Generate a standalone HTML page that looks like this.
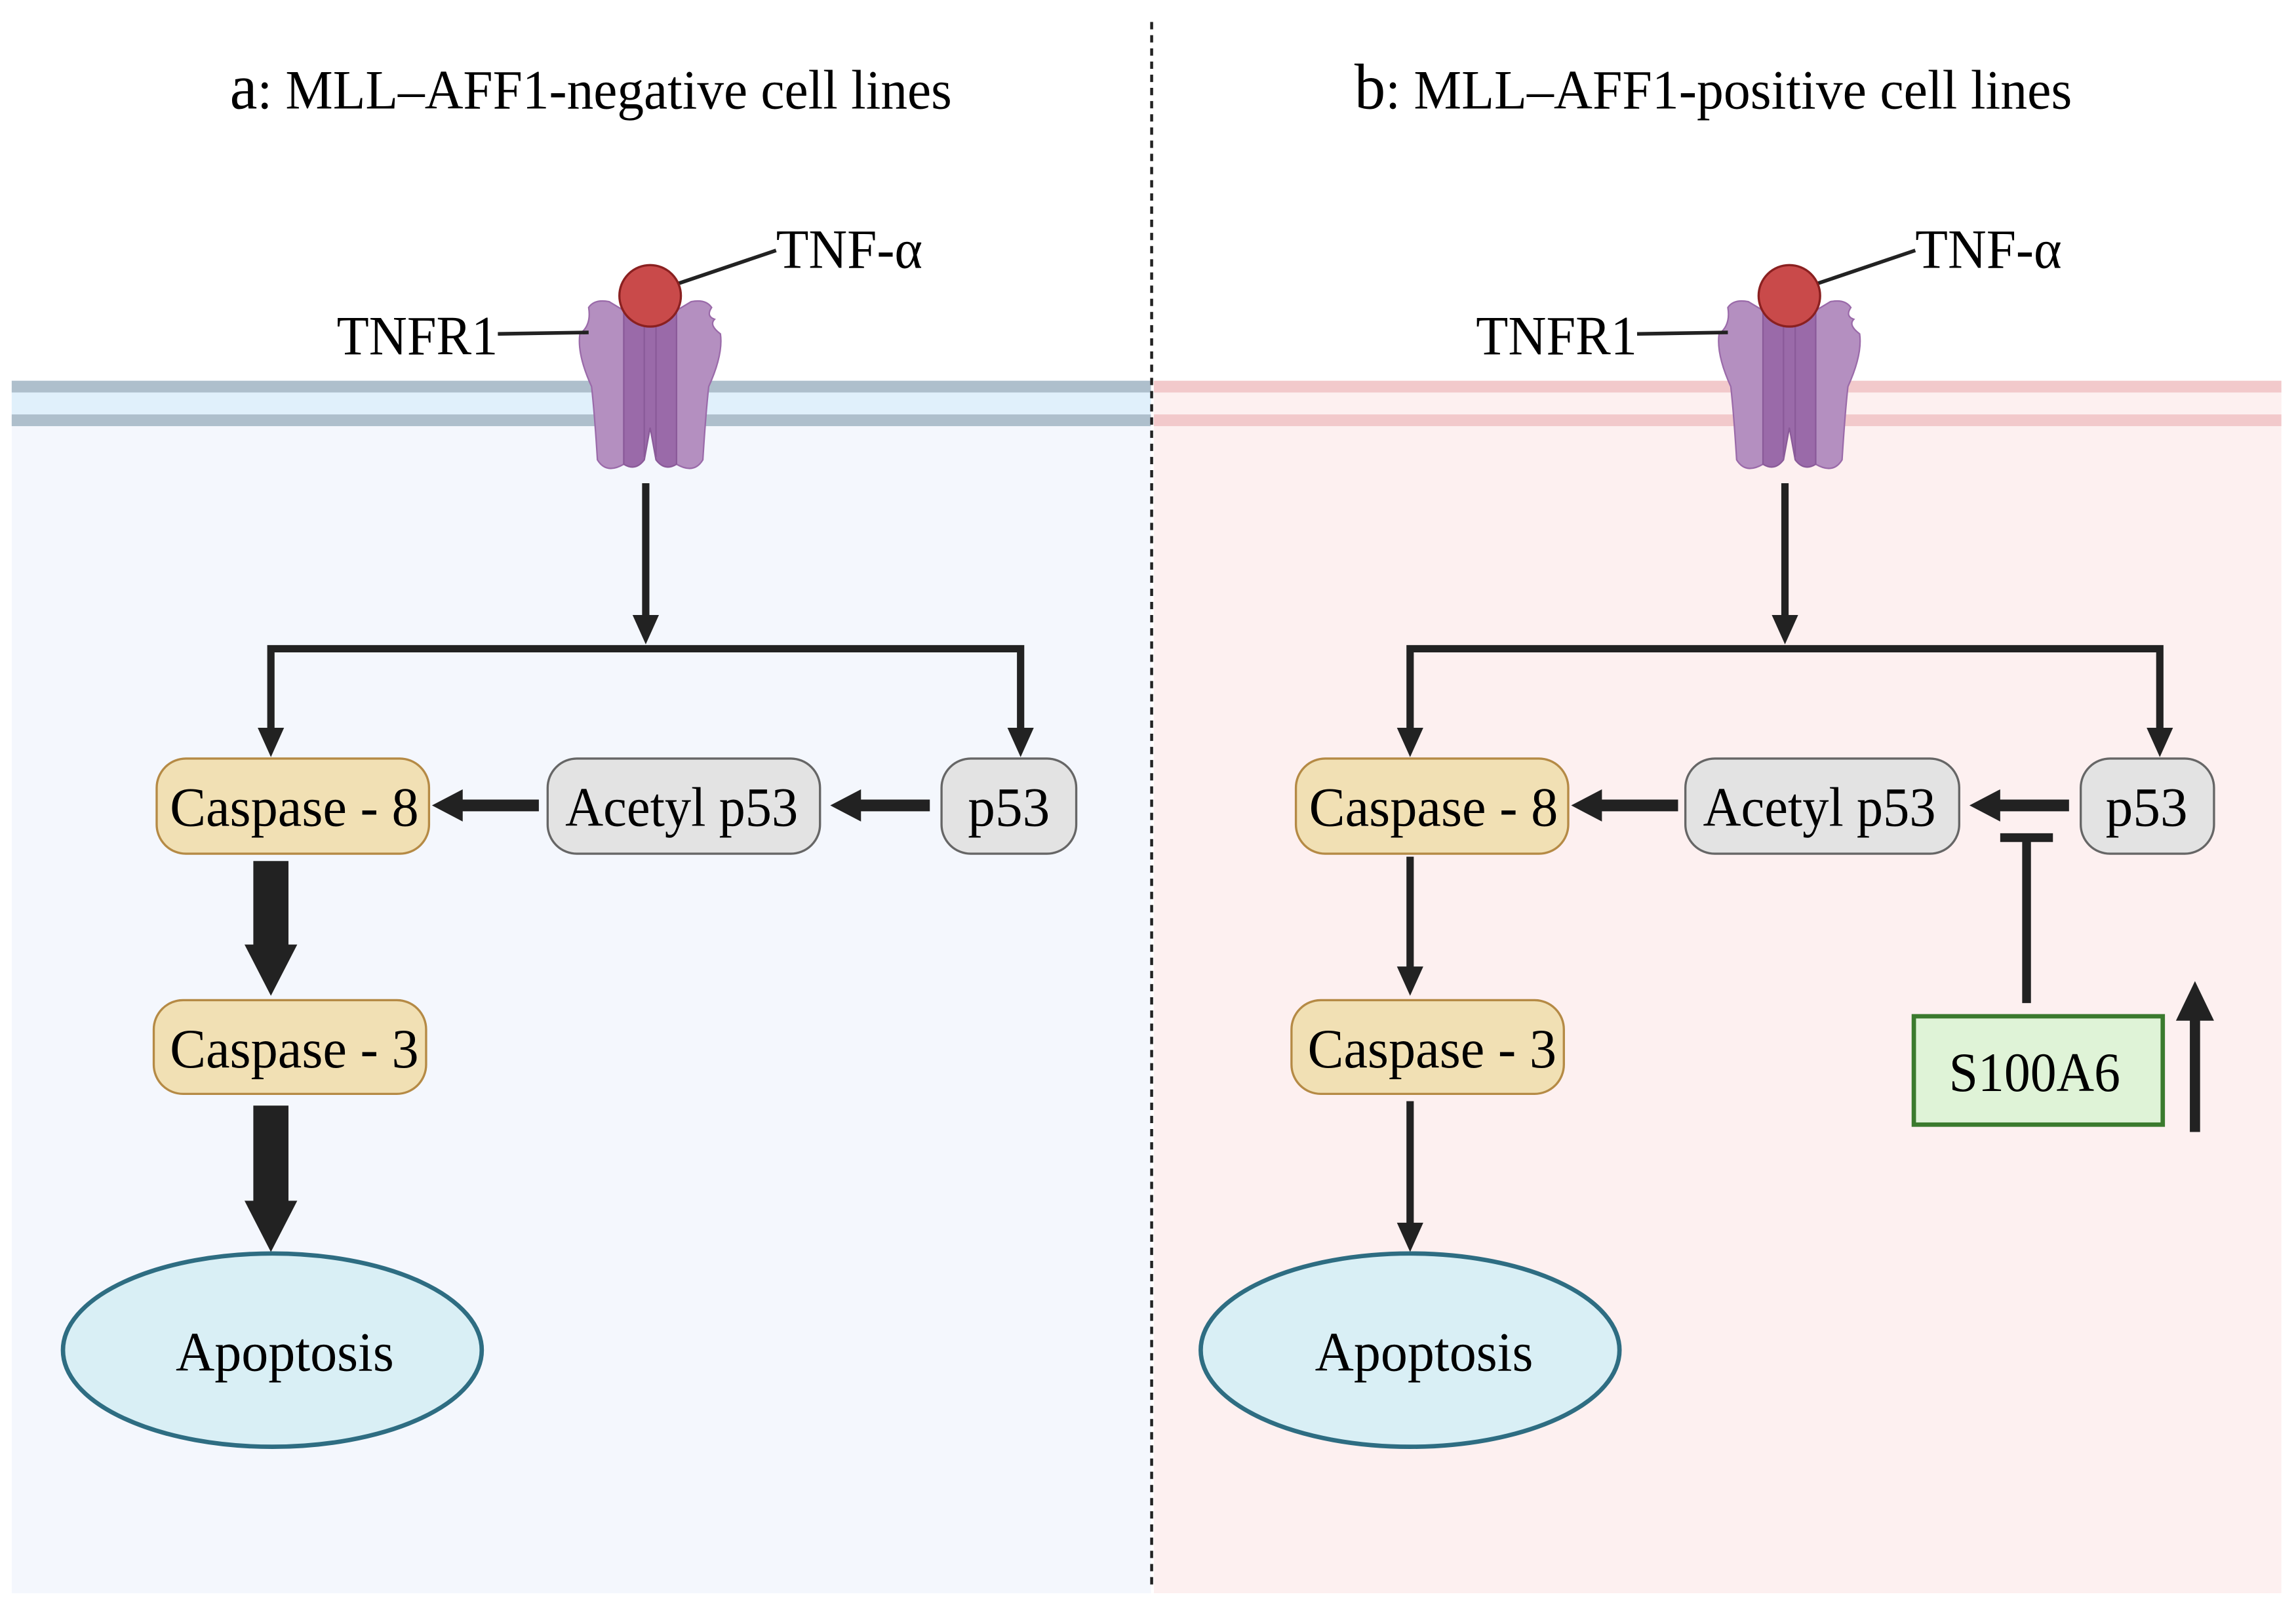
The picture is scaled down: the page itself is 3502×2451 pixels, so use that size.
<!DOCTYPE html>
<html><head><meta charset="utf-8"><style>html,body{margin:0;padding:0;background:#fff}svg{display:block}</style></head>
<body>
<svg width="3502" height="2451" viewBox="0 0 1568 1097.4" xmlns="http://www.w3.org/2000/svg" font-family="Liberation Serif, serif">
<defs>
<g id="rec">
<path d="M-42,8 Q-38,2 -28,4 L-18,10 L-18,115 Q-30,122 -36,112 Q-38,80 -40,62 Q-50,40 -48,26 Q-40,20 -42,8 Z" fill="#b48fc0" stroke="#9a6aa9" stroke-width="1"/>
<path d="M42,8 Q38,2 28,4 L18,10 L18,115 Q30,122 36,112 Q38,80 40,62 Q50,40 48,26 Q40,20 44,16 Q38,14 42,8 Z" fill="#b48fc0" stroke="#9a6aa9" stroke-width="1"/>
<path d="M-18,8 L18,8 L18,115 Q10,120 4,112 L0,90 L-4,112 Q-10,120 -18,115 Z" fill="#9a6aa9" stroke="#8a5a99" stroke-width="1"/>
<path d="M-4,12 L-4,110 M4,12 L4,110" stroke="#8a5a99" stroke-width="1"/>
</g>
</defs>
<rect x="8" y="265" width="778" height="823" fill="#f4f7fd"/>
<rect x="788" y="265" width="770" height="823" fill="#fdf0f0"/>
<rect x="8" y="260" width="778" height="31" fill="#e0f0fb"/>
<rect x="8" y="260" width="778" height="8" fill="#aebfcc"/>
<rect x="8" y="283" width="778" height="8" fill="#aebfcc"/>
<rect x="788" y="260" width="770" height="31" fill="#fdf0f0"/>
<rect x="788" y="260" width="770" height="8" fill="#f2c9cb"/>
<rect x="788" y="283" width="770" height="8" fill="#f2c9cb"/>
<line x1="786.5" y1="15" x2="786.5" y2="1082" stroke="#222" stroke-width="2" stroke-dasharray="5,4"/>
<text x="157" y="74" font-size="38" textLength="493" lengthAdjust="spacingAndGlyphs"><tspan font-size="44">a</tspan>: MLL–AFF1-negative cell lines</text>
<text x="925" y="74" font-size="38" textLength="490" lengthAdjust="spacingAndGlyphs"><tspan font-size="44">b</tspan>: MLL–AFF1-positive cell lines</text>

<g font-size="38" lengthAdjust="spacingAndGlyphs">
<!-- LEFT -->
<use href="#rec" x="444" y="202"/>
<line x1="340" y1="228" x2="402" y2="227" stroke="#222" stroke-width="2.5"/>
<text x="230" y="242" textLength="110" lengthAdjust="spacingAndGlyphs">TNFR1</text>
<line x1="462" y1="194" x2="530" y2="171" stroke="#222" stroke-width="2.5"/>
<circle cx="444" cy="202" r="21" fill="#c94a4a" stroke="#8a2020" stroke-width="1.5"/>
<text x="530" y="183" textLength="100" lengthAdjust="spacingAndGlyphs">TNF-α</text>
<g stroke="#222" stroke-width="5" fill="none">
<line x1="441" y1="330" x2="441" y2="422"/>
<polyline points="185,500 185,443 697,443 697,500"/>
</g>
<g fill="#222">
<polygon points="432,420 450,420 441,440"/>
<polygon points="176,497 194,497 185,517"/>
<polygon points="688,497 706,497 697,517"/>
</g>
<line x1="368" y1="550" x2="312" y2="550" stroke="#222" stroke-width="8"/>
<polygon points="295,550 316,539 316,561" fill="#222"/>
<line x1="635" y1="550" x2="584" y2="550" stroke="#222" stroke-width="8"/>
<polygon points="567,550 588,539 588,561" fill="#222"/>
<rect x="107" y="518" width="186" height="65" rx="20" fill="#f1e0b4" stroke="#b58a45" stroke-width="1.5"/>
<text x="116" y="564" textLength="170" lengthAdjust="spacingAndGlyphs">Caspase - 8</text>
<rect x="374" y="518" width="186" height="65" rx="20" fill="#e3e3e3" stroke="#666" stroke-width="1.5"/>
<text x="386" y="564" textLength="159" lengthAdjust="spacingAndGlyphs">Acetyl p53</text>
<rect x="643" y="518" width="92" height="65" rx="20" fill="#e3e3e3" stroke="#666" stroke-width="1.5"/>
<text x="661" y="564" textLength="56" lengthAdjust="spacingAndGlyphs">p53</text>
<path d="M173,588 H197 V645 H203 L185,680 L167,645 H173 Z" fill="#222"/>
<rect x="105" y="683" width="186" height="64" rx="20" fill="#f1e0b4" stroke="#b58a45" stroke-width="1.5"/>
<text x="116" y="729" textLength="170" lengthAdjust="spacingAndGlyphs">Caspase - 3</text>
<path d="M173,755 H197 V820 H203 L185,855 L167,820 H173 Z" fill="#222"/>
<ellipse cx="186" cy="922" rx="143" ry="66" fill="#d9eff5" stroke="#2e6d82" stroke-width="3"/>
<text x="120" y="936" textLength="149" lengthAdjust="spacingAndGlyphs">Apoptosis</text>

<!-- RIGHT -->
<use href="#rec" x="1222" y="202"/>
<line x1="1118" y1="228" x2="1180" y2="227" stroke="#222" stroke-width="2.5"/>
<text x="1008" y="242" textLength="110" lengthAdjust="spacingAndGlyphs">TNFR1</text>
<line x1="1240" y1="194" x2="1308" y2="171" stroke="#222" stroke-width="2.5"/>
<circle cx="1222" cy="202" r="21" fill="#c94a4a" stroke="#8a2020" stroke-width="1.5"/>
<text x="1308" y="183" textLength="100" lengthAdjust="spacingAndGlyphs">TNF-α</text>
<g stroke="#222" stroke-width="5" fill="none">
<line x1="1219" y1="330" x2="1219" y2="422"/>
<polyline points="963,500 963,443 1475,443 1475,500"/>
<line x1="963" y1="585" x2="963" y2="663"/>
<line x1="963" y1="752" x2="963" y2="838"/>
</g>
<g fill="#222">
<polygon points="1210,420 1228,420 1219,440"/>
<polygon points="954,497 972,497 963,517"/>
<polygon points="1466,497 1484,497 1475,517"/>
<polygon points="954,660 972,660 963,680"/>
<polygon points="954,835 972,835 963,855"/>
</g>
<line x1="1146" y1="550" x2="1090" y2="550" stroke="#222" stroke-width="8"/>
<polygon points="1073,550 1094,539 1094,561" fill="#222"/>
<line x1="1413" y1="550" x2="1362" y2="550" stroke="#222" stroke-width="8"/>
<polygon points="1345,550 1366,539 1366,561" fill="#222"/>
<line x1="1384" y1="685" x2="1384" y2="572" stroke="#222" stroke-width="6"/>
<line x1="1366" y1="572" x2="1402" y2="572" stroke="#222" stroke-width="6"/>
<rect x="885" y="518" width="186" height="65" rx="20" fill="#f1e0b4" stroke="#b58a45" stroke-width="1.5"/>
<text x="894" y="564" textLength="170" lengthAdjust="spacingAndGlyphs">Caspase - 8</text>
<rect x="1151" y="518" width="187" height="65" rx="20" fill="#e3e3e3" stroke="#666" stroke-width="1.5"/>
<text x="1163" y="564" textLength="159" lengthAdjust="spacingAndGlyphs">Acetyl p53</text>
<rect x="1421" y="518" width="91" height="65" rx="20" fill="#e3e3e3" stroke="#666" stroke-width="1.5"/>
<text x="1438" y="564" textLength="56" lengthAdjust="spacingAndGlyphs">p53</text>
<rect x="882" y="683" width="186" height="64" rx="20" fill="#f1e0b4" stroke="#b58a45" stroke-width="1.5"/>
<text x="893" y="729" textLength="170" lengthAdjust="spacingAndGlyphs">Caspase - 3</text>
<ellipse cx="963" cy="922" rx="143" ry="66" fill="#d9eff5" stroke="#2e6d82" stroke-width="3"/>
<text x="898" y="936" textLength="149" lengthAdjust="spacingAndGlyphs">Apoptosis</text>
<rect x="1307" y="694" width="170" height="74" fill="#dff3d7" stroke="#3b7a2e" stroke-width="3"/>
<text x="1331" y="745" textLength="117" lengthAdjust="spacingAndGlyphs">S100A6</text>
<line x1="1499" y1="773" x2="1499" y2="690" stroke="#222" stroke-width="7"/>
<path d="M1486,697 L1499,670 L1512,697 Z" fill="#222"/>
</g>
</svg>
</body></html>
